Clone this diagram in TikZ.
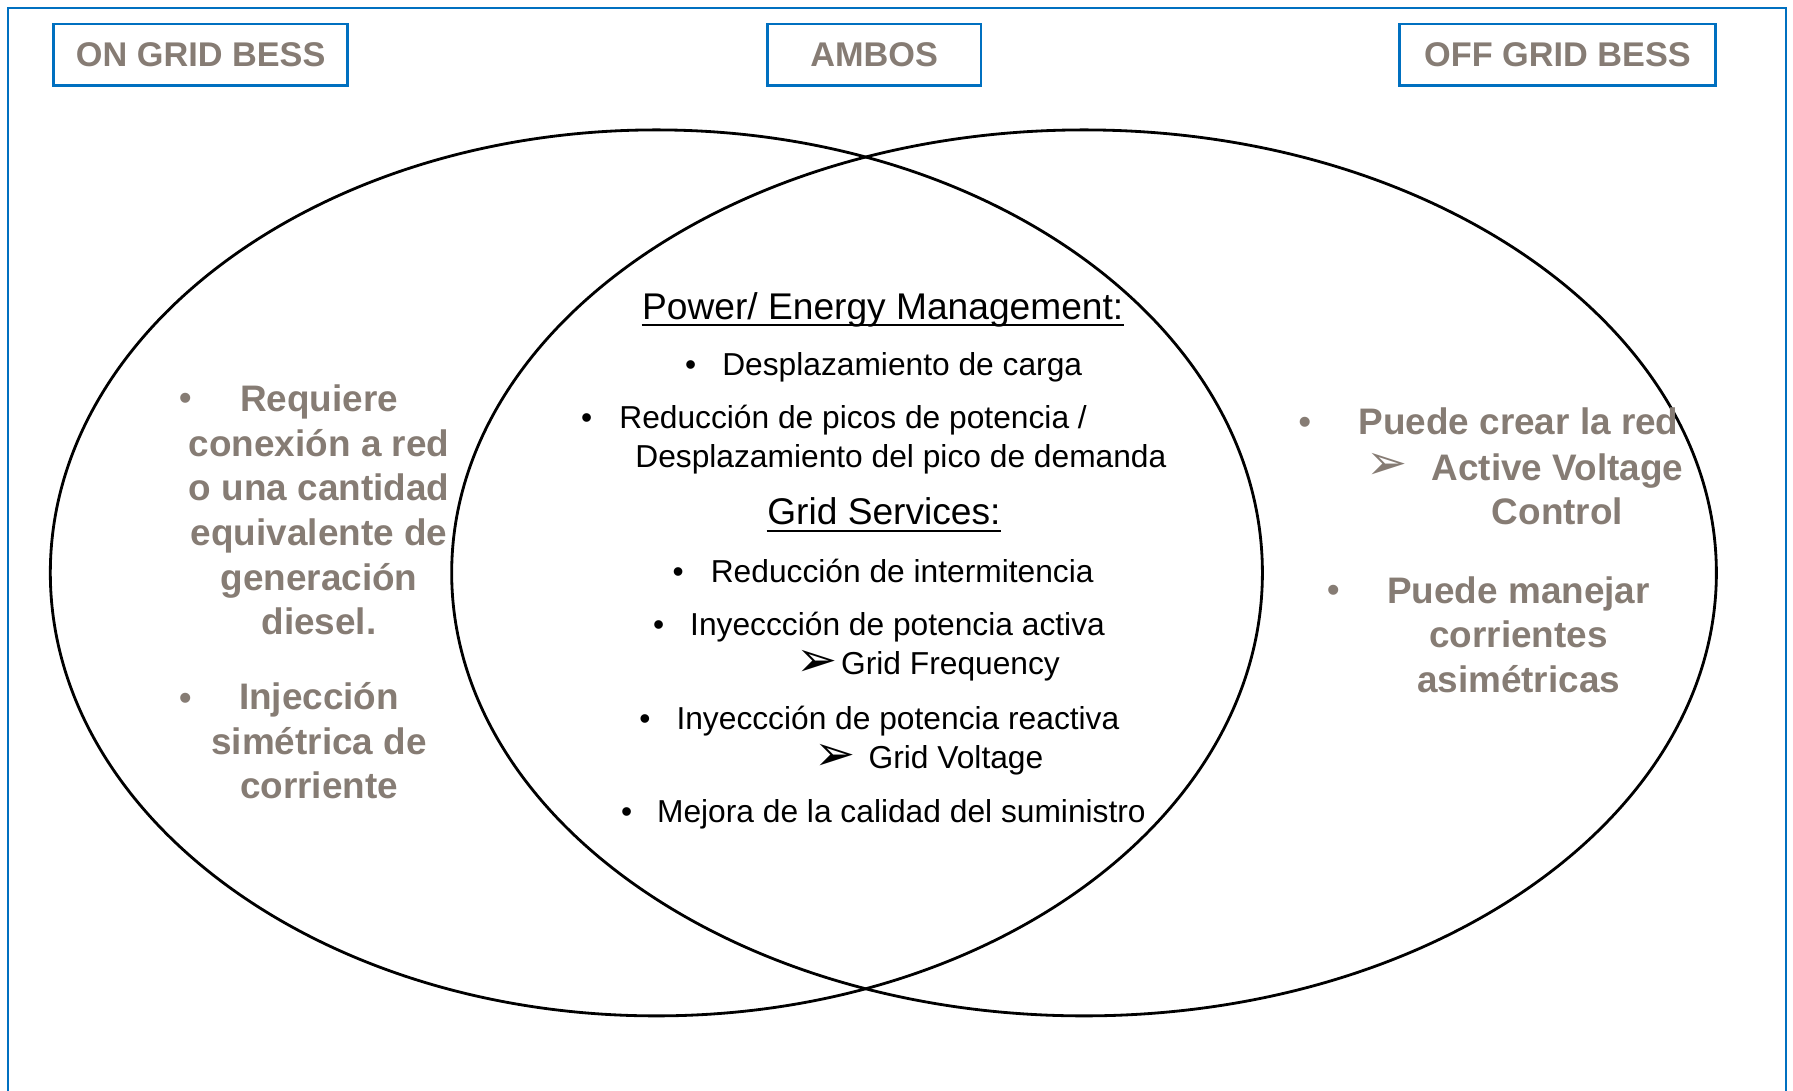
\documentclass[tikz,border=0pt]{standalone}
\usepackage{fontspec}
\setmainfont{Liberation Sans}
\newfontfamily\dingfont{DejaVu Sans}
\usepackage{xcolor}
\usepackage{tikz}

\definecolor{frameblue}{RGB}{0,112,192}
\definecolor{taupe}{RGB}{134,124,116}
\def\px{0.11435mm}

\tikzset{
    header/.style = {draw = frameblue, line width = 0.75pt, inner sep = 0pt, text = taupe,
        font = \fontsize{9.75}{11.7}\selectfont\bfseries, minimum height = 54*\px},
    body/.style = {inner sep = 0pt, anchor = base west, font = \fontsize{9.03}{10.8}\selectfont},
    heading/.style = {inner sep = 0pt, anchor = base, font = \fontsize{10.57}{12.7}\selectfont},
    greytext/.style = {inner sep = 0pt, text = taupe, align = center,
        font = \fontsize{10.5}{12.68}\selectfont\bfseries},
    dot/.style = {inner sep = 0pt, anchor = base, font = \fontsize{9.03}{10.8}\selectfont},
    greydot/.style = {inner sep = 0pt, anchor = base, text = taupe, font = \fontsize{10.5}{12.68}\selectfont},
    tip/.style = {inner sep = 0pt, anchor = center, font = \dingfont\fontsize{14}{14}\selectfont},
    ring/.style = {line width = 0.8pt},
}

\begin{document}
\begin{tikzpicture}[x = \px, y = -\px]
        \useasboundingbox (0, 0) rectangle (1568, 954);
        % frame, open at the bottom
        \draw [frameblue, line width = 0.75pt] (7, 954) -- (7, 7) -- (1562, 7) -- (1562, 954);
        % headers
        \node (on) at (175.5, 48) [header, minimum width = 257*\px] {ON GRID BESS};
        \node (both) at (764.5, 48) [header, minimum width = 187*\px] {AMBOS};
        \node (off) at (1362, 48) [header, minimum width = 276*\px] {OFF GRID BESS};
        % the two sets
        \draw [ring] (574, 501) ellipse (530 and 387.4);
        \draw [ring] (948, 501) ellipse (553 and 387.4);
        % shared items
        \node (pem) at (772, 279) [heading] {Power/ Energy Management:};
        \draw [line width = 0.6pt] ([yshift = -0.6mm]pem.base west) -- ([yshift = -0.6mm]pem.base east);
        \node (d1) at (604, 328) [dot] {\textbullet};
        \node (t1) at (631, 328) [body] {Desplazamiento de carga};
        \node (d2) at (513, 375) [dot] {\textbullet};
        \node (t2) at (541, 375) [body] {Reducción de picos de potencia /};
        \node (t3) at (555, 409) [body] {Desplazamiento del pico de demanda};
        \node (gs) at (773, 459) [heading] {Grid Services:};
        \draw [line width = 0.6pt] ([yshift = -0.6mm]gs.base west) -- ([yshift = -0.6mm]gs.base east);
        \node (d4) at (593, 509) [dot] {\textbullet};
        \node (t4) at (621, 509) [body] {Reducción de intermitencia};
        \node (d5) at (576, 556) [dot] {\textbullet};
        \node (t5) at (603, 556) [body] {Inyeccción de potencia activa};
        \node (a6) at (715, 580) [tip] {➢};
        \node (t6) at (735, 590) [body] {Grid Frequency};
        \node (d7) at (564, 638) [dot] {\textbullet};
        \node (t7) at (591, 638) [body] {Inyeccción de potencia reactiva};
        \node (a8) at (730, 662) [tip] {➢};
        \node (t8) at (759, 672) [body] {Grid Voltage};
        \node (d9) at (548, 719) [dot] {\textbullet};
        \node (t9) at (574, 719) [body] {Mejora de la calidad del suministro};
        % on grid only
        \node (ld1) at (162, 359) [greydot] {\textbullet};
        \node (l1) at (279, 446) [greytext] {Requiere\\conexión a red\\o una cantidad\\equivalente de\\generación\\diesel.};
        \node (ld2) at (162, 621) [greydot] {\textbullet};
        \node (l2) at (279, 648) [greytext] {Injección\\simétrica de\\corriente};
        % off grid only
        \node (rd1) at (1141, 380) [greydot] {\textbullet};
        \node (r1) at (1328, 380) [greytext, anchor = base] {Puede crear la red};
        \node (ra1) at (1213, 408) [tip, text = taupe] {➢};
        \node (r2) at (1362, 428) [greytext] {Active Voltage\\Control};
        \node (rd2) at (1166, 527) [greydot] {\textbullet};
        \node (r3) at (1328, 555) [greytext] {Puede manejar\\corrientes\\asimétricas};
    \end{tikzpicture}
\end{document}
